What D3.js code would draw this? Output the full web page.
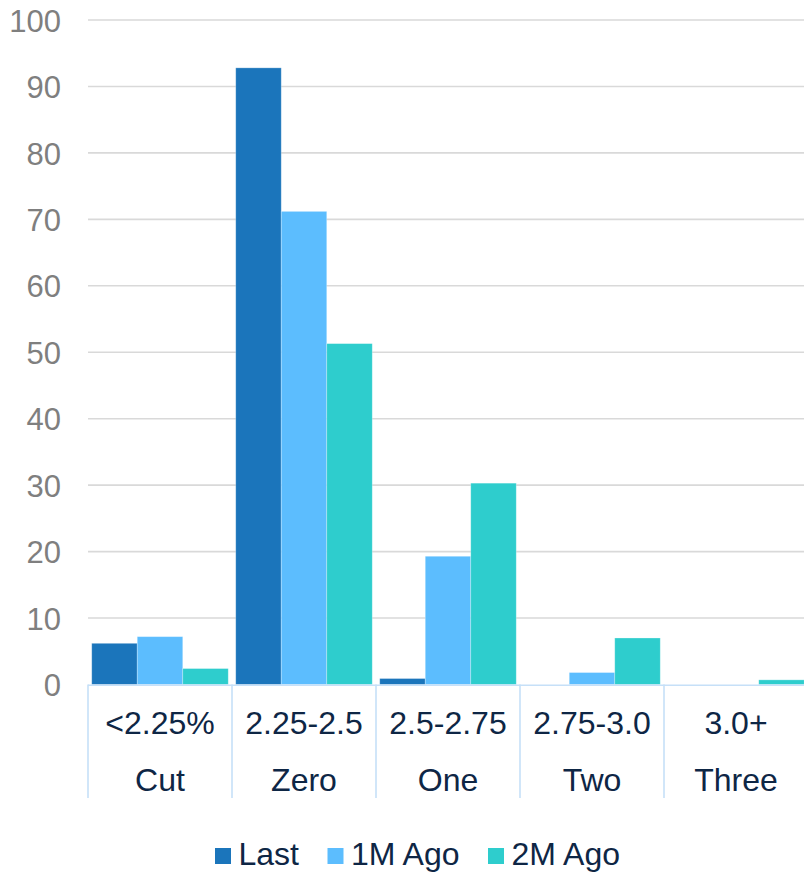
<!DOCTYPE html>
<html>
<head>
<meta charset="utf-8">
<script src="https://cdn.jsdelivr.net/npm/d3@7"></script>
<style>
  html, body { margin: 0; padding: 0; background: #fff; }
  svg { display: block; font-family: "Liberation Sans", Arial, sans-serif; }
</style>
</head>
<body>
<svg id="chart" width="804" height="872"></svg>
<script>
// Rate ranges and the implied number of hikes
const rangeLabels = ["<2.25%", "2.25-2.5", "2.5-2.75", "2.75-3.0", "3.0+"];
const moveLabels  = ["Cut", "Zero", "One", "Two", "Three"];
const seriesNames = ["Last", "1M Ago", "2M Ago"];

// Probability (%) per range
const lastValues  = [6.2, 92.8, 0.9, 0, 0];
const oneMonthAgo = [7.2, 71.2, 19.3, 1.8, 0];
const twoMonthAgo = [2.4, 51.3, 30.3, 7.0, 0.7];

const yTicks = [0, 10, 20, 30, 40, 50, 60, 70, 80, 90, 100];

const colors = { "Last": "#1B75BB", "1M Ago": "#5CBDFE", "2M Ago": "#2ECDCD" };

const seriesValues = { "Last": lastValues, "1M Ago": oneMonthAgo, "2M Ago": twoMonthAgo };

const svg = d3.select("#chart");

const plotLeft = 88, plotRight = 808, plotTop = 20, plotBottom = 684.5;

const x0 = d3.scaleBand().domain(rangeLabels).range([plotLeft, plotRight]).padding(0);
const x1 = d3.scaleBand().domain(seriesNames)
  .range([x0.bandwidth() * 0.026, x0.bandwidth() * 0.974]).padding(0);
const y = d3.scaleLinear().domain([0, 100]).range([plotBottom, plotTop]);

// Horizontal gridlines
svg.append("g")
  .selectAll("line")
  .data(yTicks.filter(t => t > 0))
  .join("line")
  .attr("x1", plotLeft).attr("x2", plotRight)
  .attr("y1", d => y(d)).attr("y2", d => y(d))
  .attr("stroke", "#D9D9D9").attr("stroke-width", 1.6);

// Y axis labels
const yAxis = d3.axisLeft(y).tickValues(yTicks).tickSize(0).tickPadding(0);
const yg = svg.append("g").attr("transform", "translate(61,0)").call(yAxis);
yg.select(".domain").remove();
yg.selectAll("text")
  .attr("font-size", 31)
  .attr("fill", "#7F7F7F")
  .attr("font-family", "Liberation Sans, Arial, sans-serif")
  .attr("dy", "0.36em");

// Bars
const groups = svg.append("g")
  .selectAll("g")
  .data(rangeLabels)
  .join("g")
  .attr("transform", d => `translate(${x0(d)},0)`);

groups.selectAll("rect")
  .data((d, i) => seriesNames.map(s => ({ s, v: seriesValues[s][i] })))
  .join("rect")
  .filter(d => d.v > 0)
  .attr("x", d => x1(d.s))
  .attr("width", x1.bandwidth())
  .attr("y", d => y(d.v))
  .attr("height", d => plotBottom - y(d.v))
  .attr("fill", d => colors[d.s])
  .attr("stroke", "#ffffff")
  .attr("stroke-opacity", 0.35)
  .attr("stroke-width", 0.8);

// Category axis: baseline and separators
const axisColor = "#C6E0F8";
const sepBottom = 798;
svg.append("line")
  .attr("x1", plotLeft).attr("x2", plotRight)
  .attr("y1", plotBottom + 0.8).attr("y2", plotBottom + 0.8)
  .attr("stroke", axisColor).attr("stroke-width", 1.6);

svg.append("g")
  .selectAll("line")
  .data(rangeLabels)
  .join("line")
  .attr("x1", d => x0(d)).attr("x2", d => x0(d))
  .attr("y1", plotBottom).attr("y2", sepBottom)
  .attr("stroke", axisColor).attr("stroke-width", 1.6);

// Two-line category labels
const labelColor = "#0E2645";
svg.append("g")
  .selectAll("text")
  .data(rangeLabels)
  .join("text")
  .attr("x", d => x0(d) + x0.bandwidth() / 2)
  .attr("y", 734)
  .attr("text-anchor", "middle")
  .attr("font-size", 32)
  .attr("fill", labelColor)
  .text(d => d);

svg.append("g")
  .selectAll("text")
  .data(moveLabels)
  .join("text")
  .attr("x", (d, i) => x0(rangeLabels[i]) + x0.bandwidth() / 2)
  .attr("y", 790.5)
  .attr("text-anchor", "middle")
  .attr("font-size", 32)
  .attr("fill", labelColor)
  .text(d => d);

// Legend
const legendX = [215, 327.5, 488];
const legend = svg.append("g")
  .selectAll("g")
  .data(seriesNames)
  .join("g")
  .attr("transform", (d, i) => `translate(${legendX[i]},0)`);

legend.append("rect")
  .attr("x", 0).attr("y", 848)
  .attr("width", 16).attr("height", 16)
  .attr("fill", d => colors[d]);

legend.append("text")
  .attr("x", 23.5).attr("y", 865)
  .attr("font-size", 32)
  .attr("fill", labelColor)
  .text(d => d);
</script>
</body>
</html>
